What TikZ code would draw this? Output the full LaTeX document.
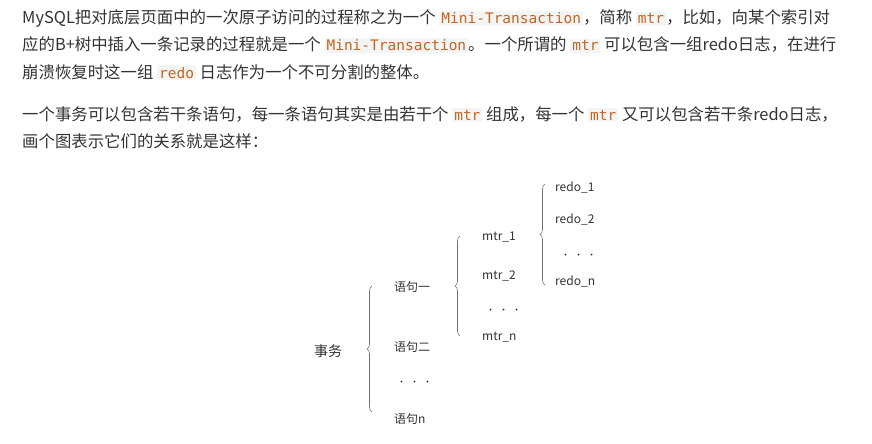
\documentclass[tikz,border=0pt]{standalone}
\usepackage{fontspec}
\setmainfont{Noto Sans CJK SC}
\newfontfamily\codef{DejaVu Sans Mono}
\usetikzlibrary{decorations.pathreplacing}
\definecolor{txt}{HTML}{333333}
\definecolor{codec}{HTML}{C7641F}
\definecolor{codebg}{HTML}{F3F4F4}
\newcommand{\cd}[1]{{\setlength{\fboxsep}{2pt}\colorbox{codebg}{\codef\fontsize{14.5}{15}\selectfont\color{codec}#1}}}
\newcommand{\dd}{{\fontsize{9}{10}\selectfont·\hspace{4pt}·\hspace{4pt}·}}
\tikzset{
  para/.style={anchor=base west, inner sep=0pt, text=txt, font=\fontsize{16.4}{18}\selectfont},
  lab/.style={anchor=west, inner sep=0pt, text=txt, font=\fontsize{12}{14}\selectfont},
  br/.style={draw=txt!70, line width=0.6pt, decorate, decoration={brace, amplitude=5pt}},
}
\begin{document}
\begin{tikzpicture}[x=1pt,y=-1pt]
\useasboundingbox[fill=white] (0,0) rectangle (872,444);
\node[para] (l1) at (22,24) {MySQL把对底层页面中的一次原子访问的过程称之为一个 \cd{Mini-Transaction}，简称 \cd{mtr}，比如，向某个索引对};
\node[para] (l2) at (22,51) {应的B+树中插入一条记录的过程就是一个 \cd{Mini-Transaction}。一个所谓的 \cd{mtr} 可以包含一组redo日志，在进行};
\node[para] (l3) at (22,78) {崩溃恢复时这一组 \cd{redo} 日志作为一个不可分割的整体。};
\node[para] (l4) at (22,120) {一个事务可以包含若干条语句，每一条语句其实是由若干个 \cd{mtr} 组成，每一个 \cd{mtr} 又可以包含若干条redo日志，};
\node[para] (l5) at (22,147) {画个图表示它们的关系就是这样：};

\node[lab, font=\fontsize{14}{16}\selectfont] (sw) at (314,351) {事务};
\node[lab] (s1) at (394,287) {语句一};
\node[lab] (s2) at (394,347) {语句二};
\node[lab] (sd) at (397,383) {\dd};
\node[lab] (sn) at (394,419) {语句n};
\node[lab] (m1) at (482,237) {mtr\_1};
\node[lab] (m2) at (482,276) {mtr\_2};
\node[lab] (md) at (486,311) {\dd};
\node[lab] (mn) at (482,337) {mtr\_n};
\node[lab] (r1) at (555,188) {redo\_1};
\node[lab] (r2) at (555,220) {redo\_2};
\node[lab] (rd) at (561,256) {\dd};
\node[lab] (rn) at (555,282) {redo\_n};

\coordinate (b1t) at (372,286); \coordinate (b1b) at (372,412);
\coordinate (b2t) at (460,236); \coordinate (b2b) at (460,336);
\coordinate (b3t) at (545,184); \coordinate (b3b) at (545,285);
\draw[br] (b1b) -- (b1t);
\draw[br] (b2b) -- (b2t);
\draw[br] (b3b) -- (b3t);
\end{tikzpicture}
\end{document}
